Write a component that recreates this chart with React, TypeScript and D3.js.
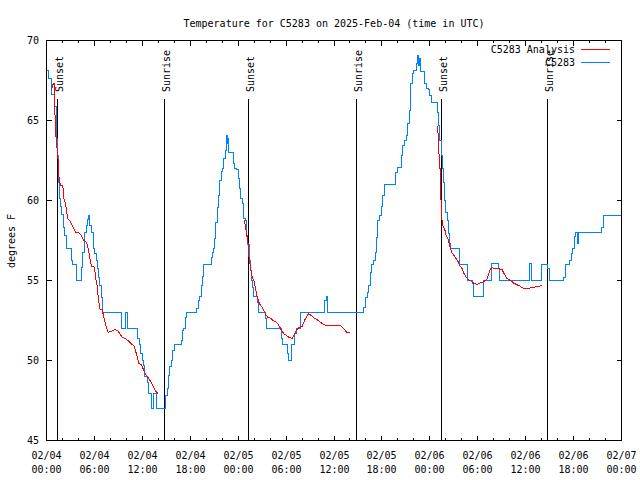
import React from "react";
import * as d3 from "d3";

// ---- data ----
const title = "Temperature for C5283 on 2025-Feb-04 (time in UTC)";
const yLabel = "degrees F";
const xTickDates = ["02/04", "02/04", "02/04", "02/04", "02/05", "02/05", "02/05", "02/05", "02/06", "02/06", "02/06", "02/06", "02/07"];
const xTickTimes = ["00:00", "06:00", "12:00", "18:00", "00:00", "06:00", "12:00", "18:00", "00:00", "06:00", "12:00", "18:00", "00:00"];
const yTicks = [45, 50, 55, 60, 65, 70];

// hours since 2025-02-04 00:00 UTC
const eventHours = [1.42, 14.81, 25.33, 38.86, 49.4, 62.77];
const eventLabels = ["Sunset", "Sunrise", "Sunset", "Sunrise", "Sunset", "Sunrise"];

// C5283 observations (step series)
const obsHours = [
  0, 0.29, 0.59, 1.0, 1.21, 1.34, 1.5, 1.63, 1.75, 1.94, 2.09, 2.29, 2.47, 3.09, 3.29, 3.72,
  4.35, 4.55, 4.76, 4.97, 5.17, 5.3, 5.42, 5.6, 5.85, 6.05, 6.26, 6.39, 6.55, 6.67, 6.85, 7.05,
  9.35, 9.89, 10.11, 11.36, 11.61, 11.77, 11.98, 12.18, 12.31, 12.61, 12.81, 13.11, 13.4, 13.81,
  14.84, 14.96, 15.15, 15.31, 15.44, 15.59, 15.82, 15.97, 16.87, 17.03, 17.19, 17.37, 17.53,
  18.82, 19.0, 19.16, 19.37, 19.57, 19.7, 20.62, 20.75, 20.87, 21.04, 21.2, 21.38, 21.54, 21.7,
  21.88, 22.04, 22.2, 22.41, 22.54, 22.63, 22.7, 22.83, 23.38, 23.54, 23.79, 24.0, 24.13, 24.29,
  24.51, 24.67, 24.88, 25.08, 25.21, 25.38, 25.55, 25.71, 25.8, 25.96, 26.38, 26.58, 27.42, 27.55,
  29.39, 29.59, 30.14, 30.3, 30.64, 31.09, 31.31, 31.81, 34.85, 35.06, 35.19,
  39.73, 39.94, 40.16, 40.36, 40.57, 40.73, 40.99, 41.2, 41.32, 41.49, 41.7, 41.91, 42.11, 42.33,
  43.74, 43.92, 44.42, 44.62, 44.83, 45.04, 45.24, 45.49, 45.62, 45.83, 45.99, 46.29, 46.46,
  46.62, 46.71, 46.83, 47.33, 47.58, 47.8, 47.96, 48.17, 49.0, 49.12, 49.25, 49.42, 49.59, 49.71,
  49.88, 50.0, 50.18, 50.3, 50.47, 50.59, 51.75, 52.68, 53.31, 53.51, 54.76, 55.72, 56.56, 56.73,
  60.52, 60.69, 61.95, 62.77, 63.02, 64.78, 64.95, 65.53, 65.7, 65.87, 66.12, 66.28, 66.45, 66.58,
  69.5, 69.71, 71.88,
];
const obsTemps = [
  68.1, 67.6, 66.6, 65.9, 63.9, 62.8, 61.1, 60.1, 59.6, 59.1, 58.3, 57.8, 57.0, 56.25, 56.0, 55.0,
  55.83, 56.77, 57.98, 58.44, 58.81, 59.06, 58.44, 58.02, 56.98, 56.67, 56.25, 55.73, 55.21, 54.69, 53.96, 53.0,
  52.0, 53.0, 52.0, 51.36, 50.98, 50.42, 50.0, 49.69, 49.0, 48.64, 47.96, 47.0, 47.96, 47.0,
  47.31, 47.81, 48.27, 49.06, 49.63, 50.0, 50.63, 51.0, 51.25, 51.88, 51.98, 52.71, 52.98,
  53.23, 53.75, 54.0, 54.69, 55.25, 55.98, 56.46, 56.77, 56.98, 57.61, 58.64, 59.54, 60.31, 61.25,
  61.83, 62.02, 62.61, 63.13, 64.06, 63.58, 63.88, 63.02, 62.33, 62.02, 61.92, 61.36, 60.73, 60.11,
  59.79, 58.86, 58.75, 57.81, 57.25, 56.25, 55.63, 55.0, 54.58, 54.0, 53.64, 52.98, 52.61, 51.98,
  51.36, 51.0, 50.46, 50.0, 51.0, 51.67, 51.98, 52.98, 53.75, 54.0, 52.98,
  53.33, 53.96, 54.27, 54.69, 55.52, 56.0, 56.25, 56.77, 57.71, 58.75, 59.06, 59.64, 60.31, 61.0,
  61.77, 62.08, 62.81, 63.44, 63.75, 64.06, 64.79, 65.63, 67.29, 67.92, 68.13, 68.58, 69.06,
  68.44, 68.88, 68.08, 67.29, 67.02, 66.92, 66.56, 66.14, 65.52, 64.69, 63.75, 62.81, 61.98, 61.14,
  60.0, 59.27, 58.75, 57.92, 57.29, 56.98, 56.0, 55.0, 54.79, 54.0, 55.0, 56.04, 55.73, 55.0,
  56.04, 55.0, 56.0, 55.73, 55.0, 55.21, 56.0, 56.25, 56.71, 56.98, 57.75, 58.02, 57.29, 58.02,
  58.33, 59.06, 59.06,
];

// C5283 Analysis (null = gap)
const anaHours = [
  0.66, 0.81, 1.0, 1.06, 1.21, 1.42, 1.54, 1.75, 2.04, 2.17, 2.38, 2.5, 2.67, 2.92, 3.22, 3.63,
  4.04, 4.35, 4.6, 5.01, 5.22, 5.38, 5.51, 5.64, 6.01, 6.14, 6.35, 6.47, 6.67, 6.97, 7.18, 7.48,
  7.73, 8.1, 8.52, 8.93, 9.18, 9.48, 9.89, 10.18, 10.61, 10.93, 11.14, 11.36, 11.56, 11.9, 12.18,
  12.52, 12.81, 13.11, 13.44, 13.65, 13.94,
  20,
  24.73, 24.92, 25.04, 25.21, 25.33, 25.42, 25.61, 25.76, 25.96, 26.17, 26.38, 26.67, 26.92, 27.21,
  27.42, 27.71, 28.05, 28.39, 28.8, 29.09, 29.39, 29.72, 30.05, 30.34, 30.77, 31.06, 31.31, 31.59,
  32.02, 32.31, 32.65, 32.85, 33.15, 33.47, 33.9, 34.31, 34.72, 35.35, 36.82, 37.23, 37.57, 37.98,
  43,
  48.84, 49.0, 49.09, 49.25, 49.34, 49.53, 49.68, 49.84, 50.05, 50.25, 50.43, 50.59, 50.8, 51.0,
  51.22, 51.5, 51.75, 52.05, 52.26, 52.59, 52.88, 53.18, 53.51, 53.93, 54.26, 54.56, 54.85, 55.19,
  55.39, 55.6, 55.81, 56.23, 56.64, 57.06, 57.35, 57.69, 58.1, 58.52, 58.94, 59.35, 59.77, 60.19,
  60.61, 61.02, 61.44, 62.07,
];
const anaTemps = [
  66.98, 67.25, 67.33, 65.44, 63.75, 62.81, 61.56, 60.94, 60.94, 60.13, 59.79, 59.38, 58.86, 58.75, 58.44, 58.02,
  57.98, 57.81, 57.54, 57.39, 56.98, 56.56, 56.14, 55.88, 55.83, 55.21, 54.63, 53.96, 53.23, 53.17, 52.71, 52.08,
  51.77, 51.81, 51.92, 51.88, 51.67, 51.46, 51.36, 51.25, 51.04, 50.94, 50.63, 50.21, 49.83, 49.73, 49.38,
  49.06, 48.86, 48.64, 48.33, 48.08, 47.96,
  null,
  58.78, 58.44, 57.92, 57.5, 56.56, 56.25, 55.63, 55.21, 55.0, 54.48, 53.96, 53.54, 53.38, 53.13,
  52.88, 52.71, 52.64, 52.5, 52.39, 52.19, 51.92, 51.67, 51.56, 51.46, 51.36, 51.67, 51.92, 52.04,
  52.13, 52.5, 52.81, 52.92, 52.81, 52.67, 52.54, 52.39, 52.23, 52.19, 52.19, 51.98, 51.77, 51.73,
  null,
  64.63, 64.63, 63.13, 62.5, 60.63, 58.75, 58.33, 58.25, 57.81, 57.63, 57.33, 56.98, 56.71, 56.59,
  56.42, 56.21, 55.94, 55.73, 55.46, 55.17, 55.04, 54.96, 54.83, 54.75, 54.83, 54.89, 54.96, 55.11,
  55.42, 55.73, 55.79, 55.75, 55.73, 55.67, 55.38, 55.11, 55.0, 54.83, 54.73, 54.63, 54.48, 54.48,
  54.54, 54.58, 54.63, 54.67,
];

const legendNames = ["C5283 Analysis", "C5283"];
const colors = ["#ff0000", "#0080ff"];

const FONT = "'DejaVu Sans Mono', monospace";

export default function App() {
  const W = 640;
  const H = 480;
  const x = d3.scaleLinear().domain([0, 72]).range([46.5, 621.5]);
  const y = d3.scaleLinear().domain([45, 70]).range([440.5, 40.5]);

  const obs = obsHours.map((h, i) => [h, obsTemps[i]] as [number, number]);
  const ana = anaHours.map((h, i) => [h, anaTemps[i]] as [number, number | null]);

  const obsLine = d3
    .line<[number, number]>()
    .x((d) => x(d[0]))
    .y((d) => y(d[1]))
    .curve(d3.curveStepAfter);
  const anaLine = d3
    .line<[number, number | null]>()
    .defined((d) => d[1] !== null)
    .x((d) => x(d[0]))
    .y((d) => y(d[1] as number));

  const majorTicks = d3.range(0, 73, 6);
  const minorTicks = d3.range(0, 73, 2).filter((h) => h % 6 !== 0);
  const [x0, x1] = x.range();
  const [yb, yt] = y.range();

  return (
    <svg
      width={W}
      height={H}
      style={{ position: "absolute", left: 0, top: 0, background: "#fff" }}
      fontFamily={FONT}
      fontSize={10}
    >
      <rect x={0} y={0} width={W} height={H} fill="#fff" />
      <text x={(x0 + x1) / 2} y={27} textAnchor="middle">{title}</text>

      {/* event lines */}
      {eventHours.map((h, i) => {
        const ex = Math.round(x(h) - 0.5) + 0.5;
        return (
          <g key={"ev" + i}>
            <line x1={ex} x2={ex} y1={99} y2={yb} stroke="#000" strokeWidth={1} shapeRendering="crispEdges" />
            <text transform={`translate(${ex + 5.5},92) rotate(-90)`} textAnchor="start">
              {eventLabels[i]}
            </text>
          </g>
        );
      })}

      {/* series */}
      <path d={obsLine(obs) || ""} fill="none" stroke={colors[1]} strokeWidth={1} shapeRendering="crispEdges" />
      <path d={anaLine(ana) || ""} fill="none" stroke={colors[0]} strokeWidth={1} shapeRendering="crispEdges" />

      {/* frame */}
      <rect x={x0} y={yt} width={x1 - x0} height={yb - yt} fill="none" stroke="#000" strokeWidth={1} shapeRendering="crispEdges" />

      {/* x ticks */}
      {majorTicks.map((h, i) => {
        const tx = Math.round(x(h) - 0.5) + 0.5;
        return (
          <g key={"xt" + i}>
            <line x1={tx} x2={tx} y1={yb} y2={yb - 5} stroke="#000" shapeRendering="crispEdges" />
            <line x1={tx} x2={tx} y1={yt} y2={yt + 5} stroke="#000" shapeRendering="crispEdges" />
            <text x={tx} y={459} textAnchor="middle">{xTickDates[i]}</text>
            <text x={tx} y={473} textAnchor="middle">{xTickTimes[i]}</text>
          </g>
        );
      })}
      {minorTicks.map((h, i) => {
        const tx = Math.round(x(h) - 0.5) + 0.5;
        return (
          <g key={"xm" + i}>
            <line x1={tx} x2={tx} y1={yb} y2={yb - 2.5} stroke="#000" shapeRendering="crispEdges" />
            <line x1={tx} x2={tx} y1={yt} y2={yt + 2.5} stroke="#000" shapeRendering="crispEdges" />
          </g>
        );
      })}

      {/* y ticks */}
      {yTicks.map((v, i) => {
        const ty = y(v);
        return (
          <g key={"yt" + i}>
            <line x1={x0} x2={x0 + 5} y1={ty} y2={ty} stroke="#000" shapeRendering="crispEdges" />
            <line x1={x1} x2={x1 - 5} y1={ty} y2={ty} stroke="#000" shapeRendering="crispEdges" />
            <text x={39} y={ty + 3.5} textAnchor="end">{v}</text>
          </g>
        );
      })}

      <text transform="translate(15,241) rotate(-90)" textAnchor="middle">{yLabel}</text>

      {/* legend */}
      {legendNames.map((name, i) => {
        const ly = 49.5 + i * 13;
        return (
          <g key={"lg" + i}>
            <text x={575} y={ly + 3.5} textAnchor="end">{name}</text>
            <line x1={581} x2={610} y1={ly} y2={ly} stroke={colors[i]} shapeRendering="crispEdges" />
          </g>
        );
      })}
    </svg>
  );
}
